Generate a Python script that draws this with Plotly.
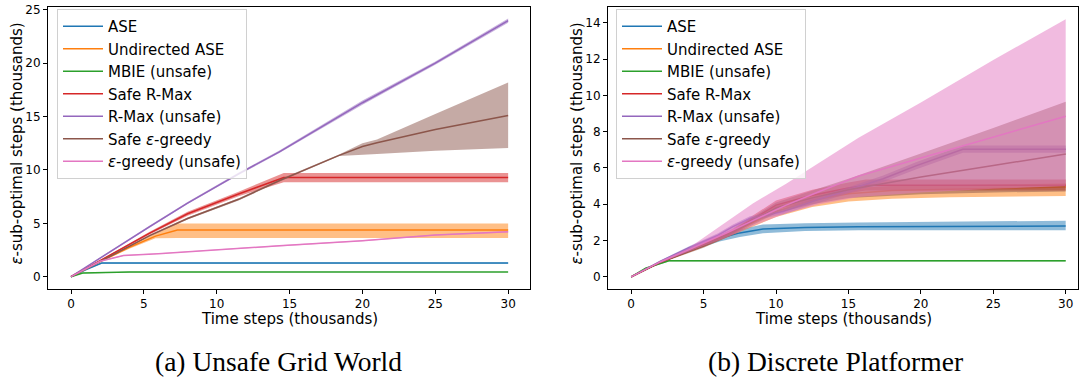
import plotly.graph_objects as go

# ---------------- Data (thousands of steps) ----------------
SERIES = ["ASE", "Undirected ASE", "MBIE (unsafe)", "Safe R-Max", "R-Max (unsafe)",
          "Safe <i>ε</i>-greedy", "<i>ε</i>-greedy (unsafe)"]
COLORS = ["#1f77b4", "#ff7f0e", "#2ca02c", "#d62728", "#9467bd", "#8c564b", "#e377c2"]

X_TICKS = [0, 5, 10, 15, 20, 25, 30]
GW_Y_TICKS = [0, 5, 10, 15, 20, 25]
DP_Y_TICKS = [0, 2, 4, 6, 8, 10, 12, 14]

# (a) Unsafe Grid World
gw_ase_t = [0, 1, 2.1, 30]
gw_ase_m = [0, 0.65, 1.28, 1.28]
gw_ase_lo = [0, 0.62, 1.22, 1.22]
gw_ase_hi = [0, 0.68, 1.34, 1.34]

gw_und_t = [0, 2, 4, 5.8, 7.3, 30]
gw_und_m = [0, 1.42, 2.75, 3.8, 4.38, 4.38]
gw_und_lo = [0, 1.35, 2.62, 3.6, 3.62, 3.62]
gw_und_hi = [0, 1.5, 2.9, 4.0, 4.98, 4.98]

gw_mbie_t = [0, 0.8, 4, 30]
gw_mbie_m = [0, 0.34, 0.43, 0.43]
gw_mbie_lo = [0, 0.31, 0.40, 0.40]
gw_mbie_hi = [0, 0.37, 0.46, 0.46]

gw_srmax_t = [0, 2.4, 5.4, 8, 11.5, 14.6, 30]
gw_srmax_m = [0, 1.8, 4.08, 5.9, 7.75, 9.3, 9.3]
gw_srmax_lo = [0, 1.72, 3.95, 5.72, 7.53, 8.86, 8.86]
gw_srmax_hi = [0, 1.88, 4.2, 6.08, 7.97, 9.72, 9.72]

gw_rmax_t = [0, 2.4, 5.4, 8, 11.5, 14.3, 20, 25, 30]
gw_rmax_m = [0, 2.1, 4.7, 6.9, 9.64, 11.7, 16.3, 20.0, 24.0]
gw_rmax_lo = [0, 2.02, 4.6, 6.8, 9.52, 11.58, 16.1, 19.85, 23.8]
gw_rmax_hi = [0, 2.18, 4.8, 7.0, 9.76, 11.82, 16.5, 20.15, 24.2]

gw_seg_t = [0, 2.4, 5.4, 8, 11.5, 14.3, 18.4, 20, 21, 25, 30]
gw_seg_m = [0, 1.7, 3.85, 5.45, 7.25, 9.0, 11.37, 12.2, 12.55, 13.8, 15.1]
gw_seg_lo = [0, 1.65, 3.78, 5.35, 7.15, 8.9, 11.3, 11.45, 11.5, 11.8, 12.05]
gw_seg_hi = [0, 1.75, 3.92, 5.55, 7.35, 9.1, 11.45, 12.5, 12.85, 15.25, 18.2]

gw_eg_t = [0, 2, 3.6, 6, 14.3, 20, 25, 30]
gw_eg_m = [0, 1.45, 1.98, 2.15, 2.9, 3.37, 3.9, 4.2]
gw_eg_lo = [0, 1.4, 1.93, 2.1, 2.85, 3.32, 3.85, 4.15]
gw_eg_hi = [0, 1.5, 2.03, 2.2, 2.95, 3.42, 3.95, 4.25]

# (b) Discrete Platformer
dp_ase_t = [0, 2, 4, 6.1, 7.5, 9.1, 12, 15.7, 30]
dp_ase_m = [0, 0.8, 1.5, 2.13, 2.42, 2.64, 2.72, 2.76, 2.8]
dp_ase_lo = [0, 0.75, 1.4, 1.95, 2.2, 2.4, 2.52, 2.57, 2.56]
dp_ase_hi = [0, 0.85, 1.6, 2.3, 2.62, 2.88, 2.95, 3.0, 3.09]

dp_und_t = [0, 2, 5, 7, 10, 12.5, 15, 18, 22, 30]
dp_und_m = [0, 0.8, 1.75, 2.45, 3.6, 4.2, 4.58, 4.75, 4.82, 4.95]
dp_und_lo = [0, 0.75, 1.65, 2.3, 3.3, 3.85, 4.15, 4.3, 4.38, 4.45]
dp_und_hi = [0, 0.85, 1.85, 2.6, 3.9, 4.5, 4.88, 5.0, 5.05, 5.15]

dp_mbie_t = [0, 1, 2.6, 30]
dp_mbie_m = [0, 0.47, 0.88, 0.88]
dp_mbie_lo = [0, 0.44, 0.85, 0.85]
dp_mbie_hi = [0, 0.50, 0.91, 0.91]

dp_srmax_t = [0, 2, 5, 7, 10, 12.5, 15, 16.2, 30]
dp_srmax_m = [0, 0.8, 1.75, 2.5, 3.95, 4.5, 4.9, 5.05, 5.05]
dp_srmax_lo = [0, 0.75, 1.65, 2.35, 3.7, 4.2, 4.6, 4.75, 4.75]
dp_srmax_hi = [0, 0.85, 1.85, 2.65, 4.2, 4.8, 5.2, 5.36, 5.36]

dp_rmax_t = [0, 2, 4, 6, 7, 8.2, 9.1, 10.5, 12.5, 15, 17.4, 19.7, 22, 22.9, 30]
dp_rmax_m = [0, 0.85, 1.6, 2.3, 2.75, 3.22, 3.35, 3.6, 4.15, 4.77, 5.4, 6.13, 6.77, 7.03, 7.03]
dp_rmax_lo = [0, 0.8, 1.52, 2.2, 2.63, 3.1, 3.22, 3.45, 3.98, 4.6, 5.22, 5.93, 6.57, 6.83, 6.83]
dp_rmax_hi = [0, 0.9, 1.68, 2.4, 2.87, 3.34, 3.48, 3.75, 4.32, 4.94, 5.58, 6.33, 6.97, 7.23, 7.23]

dp_seg_t = [0, 2, 5, 7, 10, 12.5, 15, 20, 25, 30]
dp_seg_m = [0, 0.8, 1.72, 2.45, 3.8, 4.35, 4.8, 5.5, 6.13, 6.77]
dp_seg_lo = [0, 0.75, 1.6, 2.3, 3.5, 4.0, 4.35, 4.55, 4.65, 4.7]
dp_seg_hi = [0, 0.85, 1.85, 2.6, 4.1, 4.75, 5.4, 6.8, 8.2, 9.65]

dp_eg_t = [0, 2, 4, 5.6, 6.8, 8.4, 10.7, 13, 15.7, 20, 25, 30]
dp_eg_m = [0, 0.82, 1.5, 2.05, 2.5, 3.1, 3.95, 4.7, 5.55, 6.55, 7.7, 8.85]
dp_eg_lo = [0, 0.78, 1.4, 1.9, 2.25, 2.8, 3.5, 4.0, 4.4, 4.65, 4.85, 5.0]
dp_eg_hi = [0, 0.86, 1.6, 2.5, 3.13, 4.04, 5.13, 6.31, 7.67, 9.6, 11.95, 14.2]

GW = [
    (gw_ase_t, gw_ase_m, gw_ase_lo, gw_ase_hi),
    (gw_und_t, gw_und_m, gw_und_lo, gw_und_hi),
    (gw_mbie_t, gw_mbie_m, gw_mbie_lo, gw_mbie_hi),
    (gw_srmax_t, gw_srmax_m, gw_srmax_lo, gw_srmax_hi),
    (gw_rmax_t, gw_rmax_m, gw_rmax_lo, gw_rmax_hi),
    (gw_seg_t, gw_seg_m, gw_seg_lo, gw_seg_hi),
    (gw_eg_t, gw_eg_m, gw_eg_lo, gw_eg_hi),
]
DP = [
    (dp_ase_t, dp_ase_m, dp_ase_lo, dp_ase_hi),
    (dp_und_t, dp_und_m, dp_und_lo, dp_und_hi),
    (dp_mbie_t, dp_mbie_m, dp_mbie_lo, dp_mbie_hi),
    (dp_srmax_t, dp_srmax_m, dp_srmax_lo, dp_srmax_hi),
    (dp_rmax_t, dp_rmax_m, dp_rmax_lo, dp_rmax_hi),
    (dp_seg_t, dp_seg_m, dp_seg_lo, dp_seg_hi),
    (dp_eg_t, dp_eg_m, dp_eg_lo, dp_eg_hi),
]


def rgba(hex_color, a):
    h = hex_color.lstrip("#")
    r, g, b = int(h[0:2], 16), int(h[2:4], 16), int(h[4:6], 16)
    return f"rgba({r},{g},{b},{a})"


W, H = 1083, 381
fig = go.Figure()

for panel, (data, xa, ya, leg) in enumerate([(GW, "x", "y", "legend"), (DP, "x2", "y2", "legend2")]):
    for name, color, (t, m, lo, hi) in zip(SERIES, COLORS, data):
        grp = f"{leg}-{name}"
        fig.add_trace(go.Scatter(
            x=list(t) + list(t)[::-1], y=list(hi) + list(lo)[::-1],
            fill="toself", fillcolor=rgba(color, 0.5), mode="lines",
            line=dict(width=0, color=rgba(color, 0)), hoverinfo="skip",
            showlegend=False, legendgroup=grp, legend=leg, xaxis=xa, yaxis=ya))
        fig.add_trace(go.Scatter(
            x=t, y=m, mode="lines", name=name, line=dict(color=color, width=1.5),
            legendgroup=grp, legend=leg, xaxis=xa, yaxis=ya))

axis_common = dict(showline=True, mirror=True, linecolor="black", linewidth=1,
                   ticks="outside", ticklen=4, tickwidth=1, tickcolor="black",
                   showgrid=False, zeroline=False, ticklabeloverflow="allow",
                   tickfont=dict(family="DejaVu Sans", size=12, color="black"))

ydom = [1 - 288 / H, 1 - 3 / H]
legend_common = dict(y=1 - 5 / H, xanchor="left", yanchor="top",
                     bgcolor="rgba(255,255,255,0.8)", bordercolor="#d0d0d0", borderwidth=1,
                     font=dict(family="DejaVu Sans", size=15, color="black"),
                     tracegroupgap=0, traceorder="grouped", itemwidth=40)
fig.update_layout(
    width=W, height=H, margin=dict(l=0, r=0, t=0, b=0),
    paper_bgcolor="white", plot_bgcolor="white",
    font=dict(family="DejaVu Sans", size=12, color="black"),
    xaxis=dict(domain=[48 / W, 530 / W], range=[-1.58, 31.5], tickvals=X_TICKS, anchor="y", **axis_common),
    yaxis=dict(domain=ydom, range=[-1.15, 25.27], tickvals=GW_Y_TICKS, anchor="x", **axis_common),
    xaxis2=dict(domain=[608 / W, 1078 / W], range=[-1.6, 30.85], tickvals=X_TICKS, anchor="y2", **axis_common),
    yaxis2=dict(domain=ydom, range=[-0.67, 14.87], tickvals=DP_Y_TICKS, anchor="x2", **axis_common),
    legend=dict(x=57 / W, **legend_common),
    legend2=dict(x=616 / W, **legend_common),
    showlegend=True,
)

title_font = dict(family="DejaVu Sans", size=15, color="black")
ylab = "<i>ε</i>-sub-optimal steps (thousands)"
xlab = "Time steps (thousands)"
annos = [
    dict(text=xlab, x=289 / W, y=1 - 318.5 / H),
    dict(text=xlab, x=843 / W, y=1 - 318.5 / H),
    dict(text=ylab, x=17 / W, y=1 - 141 / H, textangle=-90),
    dict(text=ylab, x=577 / W, y=1 - 141 / H, textangle=-90),
]
for a in annos:
    fig.add_annotation(xref="paper", yref="paper", showarrow=False,
                       xanchor="center", yanchor="middle", font=title_font, **a)

cap_font = dict(family="Liberation Serif", size=27.5, color="black")
fig.add_annotation(text="(a) Unsafe Grid World", x=278 / W, y=1 - 361 / H, xref="paper", yref="paper",
                   showarrow=False, xanchor="center", yanchor="middle", font=cap_font)
fig.add_annotation(text="(b) Discrete Platformer", x=835 / W, y=1 - 361 / H, xref="paper", yref="paper",
                   showarrow=False, xanchor="center", yanchor="middle", font=cap_font)

fig.write_html("out.html")
